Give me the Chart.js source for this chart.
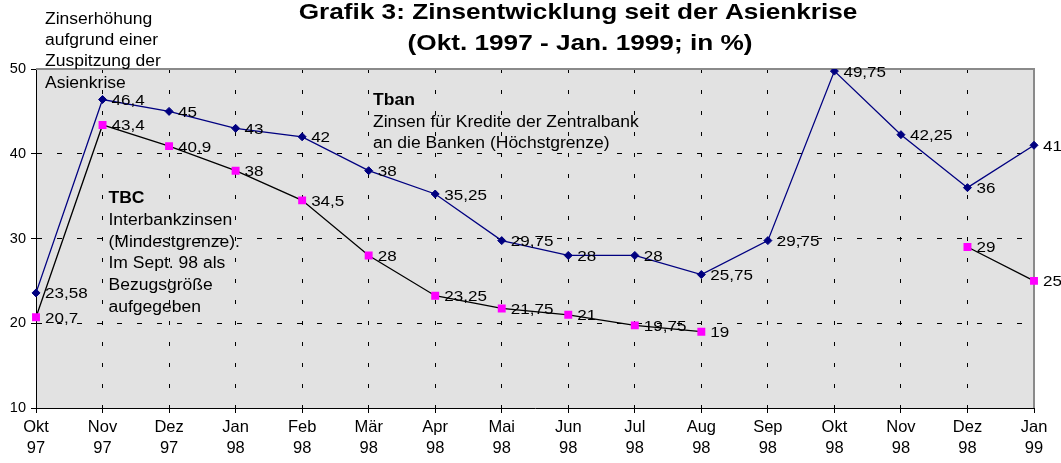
<!DOCTYPE html>
<html>
<head>
<meta charset="utf-8">
<script src="https://cdn.jsdelivr.net/npm/chart.js@4.4.1/dist/chart.umd.min.js"></script>
<style>
  html, body { margin: 0; padding: 0; background: #fff; }
  #wrap { width: 1061px; height: 463px; }
</style>
</head>
<body>
<div id="wrap"><canvas id="c" width="1061" height="463"></canvas></div>
<script>
// ---- data ----
const months = ['Okt','Nov','Dez','Jan','Feb','Mär','Apr','Mai','Jun','Jul','Aug','Sep','Okt','Nov','Dez','Jan'];
const years  = ['97','97','97','98','98','98','98','98','98','98','98','98','98','98','98','99'];
const tbanValues = [23.58, 46.4, 45, 43, 42, 38, 35.25, 29.75, 28, 28, 25.75, 29.75, 49.75, 42.25, 36, 41];
const tbcValues  = [20.7, 43.4, 40.9, 38, 34.5, 28, 23.25, 21.75, 21, 19.75, 19, null, null, null, 29, 25];
const yMin = 10, yMax = 50, yStep = 10;

const titleLines = ['Grafik 3: Zinsentwicklung seit der Asienkrise', '(Okt. 1997 - Jan. 1999; in %)'];
const noteAsia = ['Zinserhöhung', 'aufgrund einer', 'Zuspitzung der', 'Asienkrise'];
const noteTbcHead = 'TBC';
const noteTbc = ['Interbankzinsen', '(Mindestgrenze).', 'Im Sept. 98 als', 'Bezugsgröße', 'aufgegeben'];
const noteTbanHead = 'Tban';
const noteTban = ['Zinsen für Kredite der Zentralbank', 'an die Banken (Höchstgrenze)'];

const FONT = '"Liberation Sans", Arial, Helvetica, sans-serif';
const labels = months.map((m, i) => [m, years[i]]);

function txt(ctx, s, x, y, size, bold, sx, align) {
  ctx.save();
  ctx.font = (bold ? 'bold ' : '') + size + 'px ' + FONT;
  ctx.textBaseline = 'alphabetic';
  ctx.textAlign = align || 'left';
  ctx.fillStyle = '#000';
  ctx.translate(x, y);
  ctx.scale(sx, 1);
  ctx.fillText(s, 0, 0);
  ctx.restore();
}

const decor = {
  id: 'decor',
  beforeDraw(chart) {
    const {ctx, chartArea: a} = chart;
    ctx.save();
    ctx.fillStyle = '#e2e2e2';
    ctx.fillRect(a.left, a.top, a.right - a.left, a.bottom - a.top);
    ctx.restore();
  },
  beforeDatasetsDraw(chart) {
    const {ctx, chartArea: a} = chart;
    ctx.save();
    ctx.strokeStyle = '#8a8a8a';
    ctx.lineWidth = 2;
    ctx.beginPath();
    ctx.moveTo(a.left, a.top);
    ctx.lineTo(a.right, a.top);
    ctx.lineTo(a.right, a.bottom);
    ctx.stroke();
    ctx.restore();
  },
  afterDatasetsDraw(chart) {
    const {ctx} = chart;
    chart.data.datasets.forEach((ds, di) => {
      const meta = chart.getDatasetMeta(di);
      meta.data.forEach((pt, i) => {
        const v = ds.data[i];
        if (v === null || v === undefined) return;
        txt(ctx, String(v).replace('.', ','), pt.x + 9, pt.y + 5.5, 15.5, false, 1.1, 'left');
      });
    });
  },
  afterDraw(chart) {
    const {ctx} = chart;
    // title
    txt(ctx, titleLines[0], 578, 19, 22, true, 1.19, 'center');
    txt(ctx, titleLines[1], 580, 50, 22, true, 1.19, 'center');
    // note: Asia crisis
    noteAsia.forEach((s, i) => txt(ctx, s, 45, 24 + i * 21.2, 16, false, 1.095, 'left'));
    // note: TBC
    txt(ctx, noteTbcHead, 108.5, 203, 16, true, 1.095, 'left');
    noteTbc.forEach((s, i) => txt(ctx, s, 108.5, 225 + i * 21.7, 16, false, 1.095, 'left'));
    // note: Tban
    txt(ctx, noteTbanHead, 373, 105, 16, true, 1.095, 'left');
    noteTban.forEach((s, i) => txt(ctx, s, 373, 126.7 + i * 21.5, 16, false, 1.095, 'left'));
  }
};

new Chart(document.getElementById('c'), {
  type: 'line',
  data: {
    labels: labels,
    datasets: [
      {
        label: 'Tban',
        data: tbanValues,
        borderColor: '#000080',
        borderWidth: 1.3,
        backgroundColor: '#000080',
        pointStyle: 'rectRot',
        pointRadius: 4,
        pointBorderWidth: 1,
        pointBorderColor: '#000080',
        pointBackgroundColor: '#000080',
        tension: 0,
        spanGaps: false
      },
      {
        label: 'TBC',
        data: tbcValues,
        borderColor: '#000000',
        borderWidth: 1.3,
        backgroundColor: '#ff00ff',
        pointStyle: 'rect',
        pointRadius: 5.6,
        pointBorderWidth: 0,
        pointBorderColor: '#ff00ff',
        pointBackgroundColor: '#ff00ff',
        tension: 0,
        spanGaps: false
      }
    ]
  },
  options: {
    responsive: false,
    animation: false,
    devicePixelRatio: 1,
    layout: { padding: { top: 69, right: 27, bottom: 0, left: 0 } },
    plugins: { legend: { display: false }, title: { display: false }, tooltip: { enabled: false } },
    scales: {
      x: {
        type: 'category',
        offset: false,
        afterFit(s) { s.height = 55; },
        grid: {
          color: (c) => (c.index === 0 || c.index === months.length - 1) ? 'rgba(0,0,0,0)' : '#000',
          lineWidth: 1,
          tickLength: 5,
          tickColor: '#000',
          tickBorderDash: []
        },
        border: { display: true, color: '#000', width: 1, dash: [4, 17] },
        ticks: {
          color: '#000',
          font: { family: FONT, size: 16.5, lineHeight: 21 / 16.5 },
          padding: 3.5,
          maxRotation: 0,
          autoSkip: false
        }
      },
      y: {
        min: yMin,
        max: yMax,
        afterFit(s) { s.width = 36; },
        grid: {
          color: (c) => (c.tick && (c.tick.value === yMin || c.tick.value === yMax)) ? 'rgba(0,0,0,0)' : '#000',
          lineWidth: 1,
          tickLength: 5,
          tickColor: '#000',
          tickBorderDash: []
        },
        border: { display: true, color: '#000', width: 1, dash: [5, 15] },
        ticks: {
          stepSize: yStep,
          color: '#000',
          font: { family: FONT, size: 14.5 },
          padding: 5
        }
      }
    }
  },
  plugins: [decor]
});
</script>
</body>
</html>
